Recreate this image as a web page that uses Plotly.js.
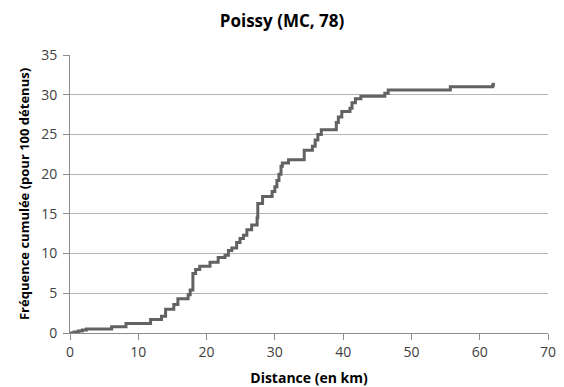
<!DOCTYPE html>
<html>
<head>
<meta charset="utf-8">
<script src="https://cdn.plot.ly/plotly-3.0.1.min.js"></script>
<style>html,body{margin:0;padding:0;background:#fff;}#chart{width:564px;height:387px;}</style>
</head>
<body>
<div id="chart"></div>
<script>
// Distance (km) at which the cumulative frequency steps up, and the new value
const distanceKm = [0, 0.6, 1.2, 1.8, 2.4, 6.1, 8.2, 11.8, 13.4, 14.0, 15.2, 15.8, 17.3, 17.6, 18.0, 18.4, 19.0,
  20.5, 21.7, 22.7, 23.2, 23.7, 24.4, 24.9, 25.4, 25.9, 26.6, 27.4, 27.5, 28.2, 29.6, 30.0, 30.3, 30.6, 30.9, 31.1,
  32.0, 34.3, 35.5, 35.9, 36.3, 36.8, 39.0, 39.3, 39.8, 41.0, 41.3, 41.8, 42.6, 46.1, 46.6, 55.7, 61.9, 62.0];
const cumulFreq = [0, 0.12, 0.25, 0.37, 0.5, 0.8, 1.2, 1.7, 2.1, 3.0, 3.6, 4.3, 4.8, 5.4, 7.5, 8.0, 8.4,
  8.9, 9.5, 9.8, 10.4, 10.7, 11.4, 11.9, 12.3, 13.0, 13.6, 14.5, 16.3, 17.2, 17.8, 18.4, 19.2, 20.0, 21.0, 21.4,
  21.8, 23.0, 23.5, 24.3, 25.0, 25.6, 26.5, 27.2, 27.9, 28.3, 29.0, 29.5, 29.8, 30.2, 30.6, 31.0, 31.2, 31.5];
const xTicks = [0, 10, 20, 30, 40, 50, 60, 70];
const yTicks = [0, 5, 10, 15, 20, 25, 30, 35];

const FONT = '"Open Sans", "Liberation Sans", sans-serif';

const trace = {
  x: distanceKm,
  y: cumulFreq,
  type: 'scatter',
  mode: 'lines',
  line: {shape: 'hv', color: '#626262', width: 3},
  hoverinfo: 'x+y'
};

const layout = {
  width: 564, height: 387,
  margin: {l: 70, r: 16, t: 55, b: 54},
  paper_bgcolor: '#ffffff', plot_bgcolor: '#ffffff',
  showlegend: false,
  font: {family: FONT, color: '#404040', size: 13},
  title: {text: 'Poissy (MC, 78)', font: {family: FONT, size: 17, color: '#000000', weight: 'bold'},
          x: 0.5, xanchor: 'center', y: 0.945, yanchor: 'middle'},
  xaxis: {
    range: [0, 70], tickvals: xTicks, ticktext: xTicks.map(String),
    showgrid: false, zeroline: false,
    showline: true, linecolor: '#8c8c8c', linewidth: 1,
    ticks: 'outside', ticklen: 6, tickcolor: '#8c8c8c',
    tickfont: {family: FONT, size: 14, color: '#404040'},
    title: {text: 'Distance (en km)', font: {family: FONT, size: 14, color: '#000000', weight: 'bold'}, standoff: 14},
    automargin: false, fixedrange: true
  },
  yaxis: {
    range: [0, 35], tickvals: yTicks, ticktext: yTicks.map(String),
    showgrid: true, gridcolor: '#b5b5b5', gridwidth: 1, zeroline: false,
    showline: true, linecolor: '#8c8c8c', linewidth: 1,
    ticks: 'outside', ticklen: 6, tickcolor: '#8c8c8c', ticklabelstandoff: 3,
    tickfont: {family: FONT, size: 14, color: '#404040'},
    title: {text: 'Fréquence cumulée (pour 100 détenus)', font: {family: FONT, size: 13, color: '#000000', weight: 'bold'}, standoff: 8},
    automargin: false, fixedrange: true
  }
};

Plotly.newPlot('chart', [trace], layout, {displayModeBar: false, staticPlot: true});
</script>
</body>
</html>
